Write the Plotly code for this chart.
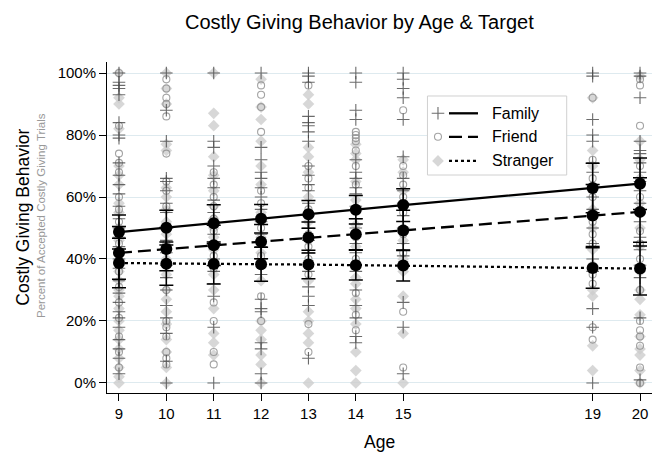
import plotly.graph_objects as go

ages = [9, 10, 11, 12, 13, 14, 15, 19, 20]
tick_vals = [0, 20, 40, 60, 80, 100]
tick_text = ["0%", "20%", "40%", "60%", "80%", "100%"]

# model-estimated means (%) and 95% CI half-widths
family_mean = [48.7, 50.1, 51.5, 53.0, 54.4, 55.9, 57.4, 62.9, 64.3]
family_ci = [5.5, 5.6, 6.0, 4.6, 4.5, 4.6, 5.3, 8.0, 8.3]
friend_mean = [42.0, 43.2, 44.4, 45.6, 46.9, 48.0, 49.2, 54.0, 55.2]
friend_ci = [8.5, 7.0, 6.5, 5.5, 5.0, 5.0, 6.5, 10.0, 11.0]
stranger_mean = [38.7, 38.5, 38.4, 38.3, 38.2, 38.0, 37.9, 37.1, 36.9]
stranger_ci = [8.0, 7.0, 6.5, 5.5, 4.6, 4.8, 5.0, 6.5, 8.5]

# individual participants (%), by age
family_raw = {
    9: [100, 97, 96, 95, 93, 84, 80, 79, 71, 67, 64, 61, 57, 53, 50, 47, 44, 40, 37, 33, 29, 26, 23, 21, 18, 14, 11, 8, 3],
    10: [100, 88, 78, 66, 65, 62, 58, 55, 50, 46, 42, 38, 34, 30, 25, 21, 16, 7, 0],
    11: [100, 78, 76, 70, 66, 63, 59, 55, 52, 48, 44, 40, 36, 32, 28, 18, 0],
    12: [100, 76, 72, 68, 66, 63, 60, 56, 52, 48, 44, 40, 35, 27, 24, 23, 13, 11, 3, 0],
    13: [100, 99, 97, 86, 84, 83, 81, 78, 70, 67, 64, 62, 58, 54, 50, 46, 42, 36, 31, 28, 25, 8],
    14: [100, 97, 88, 85, 72, 68, 66, 63, 61, 57, 53, 50, 45, 42, 36, 30, 25, 21, 15, 13],
    15: [100, 98, 95, 92, 85, 73, 66, 62, 58, 54, 50, 45, 41, 26, 18, 3],
    19: [100, 99, 85, 80, 78, 71, 68, 64, 60, 56, 50, 45, 40, 36, 24, 18, 0],
    20: [100, 99, 92, 78, 75, 74, 71, 68, 65, 62, 58, 52, 47, 43, 38, 34, 21, 1],
}
friend_raw = {
    9: [100, 83, 74, 71, 68, 60, 56, 52, 48, 45, 40, 36, 31, 26, 21, 15, 10, 5],
    10: [98, 95, 92, 90, 86, 74, 65, 62, 57, 45, 38, 30, 20, 18, 15, 10, 8, 6],
    11: [68, 64, 60, 57, 53, 49, 45, 41, 37, 26, 20, 10, 6],
    12: [96, 93, 89, 81, 62, 58, 50, 45, 41, 28, 20],
    13: [96, 70, 66, 63, 56, 48, 44, 40, 35, 19, 10],
    14: [81, 80, 79, 78, 75, 70, 64, 56, 47, 40, 29, 22, 17],
    15: [88, 70, 67, 64, 60, 55, 48, 42, 23, 5],
    19: [92, 72, 66, 60, 55, 52, 48, 45, 35, 32, 18, 14],
    20: [98, 96, 83, 70, 65, 60, 55, 49, 45, 40, 30, 20, 17, 15, 12, 5, 0],
}
stranger_raw = {
    9: [100, 92, 90, 82, 70, 67, 64, 58, 55, 50, 46, 42, 36, 33, 30, 28, 24, 20, 17, 14, 11, 8, 5, 2, 0],
    10: [100, 95, 90, 77, 75, 63, 60, 56, 52, 48, 44, 40, 35, 30, 27, 23, 19, 14, 10, 5, 0],
    11: [100, 87, 83, 73, 67, 62, 57, 53, 50, 47, 43, 39, 35, 30, 24, 16, 13, 9],
    12: [98, 89, 85, 78, 70, 64, 55, 47, 42, 38, 33, 20, 17, 14, 9, 6, 0],
    13: [93, 90, 76, 73, 68, 60, 52, 46, 38, 33, 23, 20, 16, 13, 0],
    14: [77, 74, 72, 65, 59, 51, 44, 34, 32, 27, 24, 19, 10, 4, 0],
    15: [72, 68, 62, 57, 50, 46, 40, 36, 28, 16, 0],
    19: [92, 75, 70, 62, 56, 50, 43, 38, 30, 28, 12, 4],
    20: [99, 78, 72, 66, 58, 50, 44, 36, 30, 27, 22, 15, 11, 9, 4, 0],
}

FONT = "Liberation Sans, Arial, Helvetica, sans-serif"
fam_mk = dict(symbol="cross-thin", size=9, color="rgba(70,70,70,0.8)",
              line=dict(width=1.1, color="rgba(70,70,70,0.8)"))
fri_mk = dict(symbol="circle-open", size=7, color="rgba(140,140,140,0.8)",
              line=dict(width=1.1, color="rgba(140,140,140,0.8)"))
str_mk = dict(symbol="diamond", size=9, color="rgba(205,205,205,0.8)", line=dict(width=0))


def flatten(raw):
    xs, ys = [], []
    for a in ages:
        for v in raw[a]:
            xs.append(a)
            ys.append(v)
    return xs, ys


fig = go.Figure()
for raw, mk in [(stranger_raw, str_mk), (friend_raw, fri_mk), (family_raw, fam_mk)]:
    xs, ys = flatten(raw)
    fig.add_trace(go.Scatter(x=xs, y=ys, mode="markers", marker=mk,
                             showlegend=False, hoverinfo="skip"))

for mean, ci, dash in [(stranger_mean, stranger_ci, "3px,3px"),
                       (friend_mean, friend_ci, "13px,6px"),
                       (family_mean, family_ci, "solid")]:
    fig.add_trace(go.Scatter(
        x=ages, y=mean, mode="lines+markers",
        line=dict(color="black", width=2.3, dash=dash),
        marker=dict(color="black", size=12),
        error_y=dict(type="data", array=ci, color="black", thickness=1.5, width=7),
        showlegend=False))

# legend box (axis-domain fractions, on overlay axes)
bx0, bx1, by0, by1 = 0.588, 0.8435, 0.6586, 0.8973
fig.add_trace(go.Scatter(x=[bx0, bx1, bx1, bx0, bx0], y=[by0, by0, by1, by1, by0],
                         xaxis="x2", yaxis="y2", mode="lines", fill="toself",
                         fillcolor="white", line=dict(color="#d0d0d0", width=1),
                         showlegend=False, hoverinfo="skip"))

leg_rows = [("Family", 0.845, "solid", fam_mk),
            ("Friend", 0.774, "13px,6px", fri_mk),
            ("Stranger", 0.701, "3px,3px", str_mk)]
annotations = []
for name, yy, dash, mk in leg_rows:
    fig.add_trace(go.Scatter(x=[0.6275, 0.6807], y=[yy, yy], xaxis="x2", yaxis="y2",
                             mode="lines", line=dict(color="black", width=2.3, dash=dash),
                             showlegend=False, hoverinfo="skip"))
    fig.add_trace(go.Scatter(x=[0.6073], y=[yy], xaxis="x2", yaxis="y2",
                             mode="markers", marker=mk, showlegend=False, hoverinfo="skip"))
    annotations.append(dict(text=name, xref="paper", yref="paper", x=0.7028, y=yy,
                            xanchor="left", yanchor="middle", showarrow=False,
                            font=dict(family=FONT, size=16, color="black")))

annotations += [
    dict(text="Costly Giving Behavior by Age & Target", xref="paper", yref="paper",
         x=0.464, y=1.121, xanchor="center", yanchor="middle", showarrow=False,
         font=dict(family=FONT, size=20, color="black")),
    dict(text="Costly Giving Behavior", xref="paper", yref="paper", x=-0.154, y=0.53,
         xanchor="center", yanchor="middle", textangle=-90, showarrow=False,
         font=dict(family=FONT, size=17.5, color="black")),
    dict(text="Percent of Accepted Costly Giving Trials", xref="paper", yref="paper",
         x=-0.121, y=0.535, xanchor="center", yanchor="middle", textangle=-90,
         showarrow=False, font=dict(family=FONT, size=11.5, color="#999999")),
    dict(text="Age", xref="paper", yref="paper", x=0.5, y=-0.148,
         xanchor="center", yanchor="middle", showarrow=False,
         font=dict(family=FONT, size=17.5, color="black")),
]

# page body adds an 8px margin, so the figure is sized/offset to compensate
fig.update_layout(
    width=652, height=446, template="none",
    paper_bgcolor="white", plot_bgcolor="white",
    margin=dict(l=99, r=8, t=54, b=61, autoexpand=False),
    font=dict(family=FONT, size=15, color="black"),
    annotations=annotations, showlegend=False,
    xaxis=dict(range=[8.747, 20.253], tickvals=ages, ticktext=[str(a) for a in ages],
               showgrid=False, zeroline=False, showline=True, linecolor="black",
               linewidth=1, ticks="outside", ticklen=7, tickcolor="black",
               tickfont=dict(size=15)),
    yaxis=dict(range=[-3.23, 103.55], tickvals=tick_vals, ticktext=tick_text,
               showgrid=True, gridcolor="#deeaef", gridwidth=1, zeroline=False,
               showline=True, linecolor="black", linewidth=1, ticks="outside",
               ticklen=7, tickcolor="black", tickfont=dict(size=15)),
    xaxis2=dict(overlaying="x", range=[0, 1], visible=False),
    yaxis2=dict(overlaying="y", range=[0, 1], visible=False),
)

fig.write_html("out.html")
